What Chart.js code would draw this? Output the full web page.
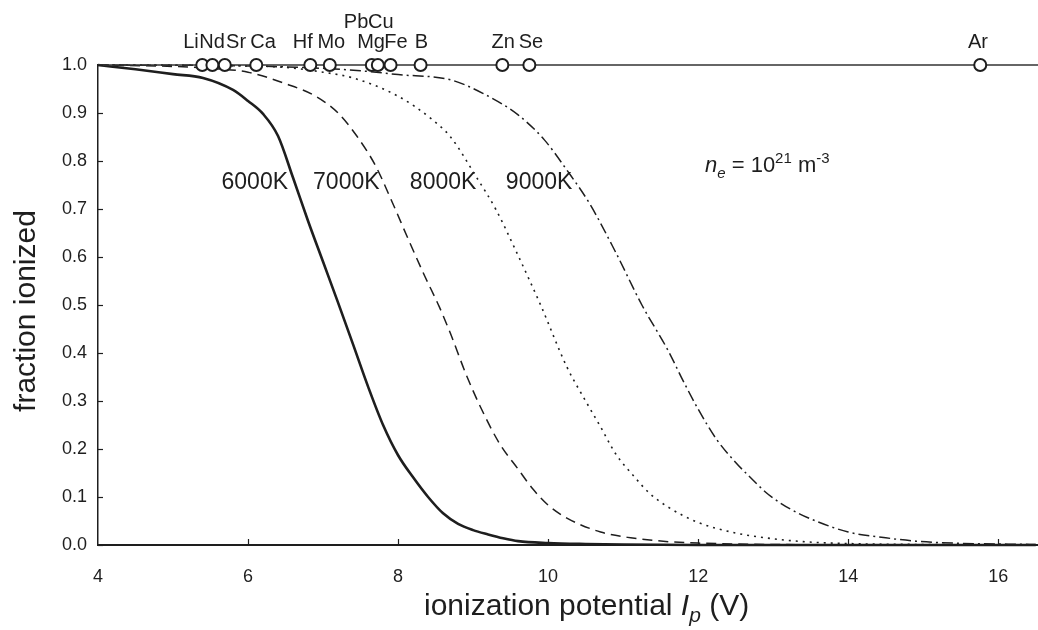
<!DOCTYPE html>
<html>
<head>
<meta charset="utf-8">
<script src="https://cdn.jsdelivr.net/npm/chart.js@4.4.1/dist/chart.umd.min.js"></script>
<style>
  html, body { margin: 0; padding: 0; background: #fff; }
  #wrap { width: 1038px; height: 630px; position: relative; }
</style>
</head>
<body>
<div id="wrap"><canvas id="chart"></canvas></div>
<script>
// ionization potential (V) vs fraction ionized
const t6000X = [4.0, 4.5, 5.0, 5.4, 5.8, 6.0, 6.2, 6.4, 6.6, 6.8, 7.0, 7.2, 7.4, 7.6, 7.8, 8.0, 8.2, 8.4, 8.6, 8.8, 9.0, 9.2, 9.4, 9.6, 10.0, 10.5, 11.0, 12.0, 16.5];
const t6000Y = [1.0, 0.991, 0.981, 0.973, 0.948, 0.925, 0.898, 0.852, 0.765, 0.675, 0.59, 0.505, 0.418, 0.33, 0.25, 0.187, 0.141, 0.1, 0.066, 0.044, 0.031, 0.022, 0.014, 0.008, 0.004, 0.002, 0.001, 0, 0];

const t7000X = [4.0, 5.0, 5.5, 6.0, 6.5, 6.9, 7.2, 7.45, 7.7, 7.9, 8.15, 8.35, 8.55, 8.7, 8.9, 9.1, 9.35, 9.6, 9.8, 10.0, 10.25, 10.7, 11.1, 11.6, 12.0, 13.0, 16.5];
const t7000Y = [1.0, 0.997, 0.993, 0.985, 0.961, 0.935, 0.9, 0.852, 0.79, 0.722, 0.632, 0.562, 0.496, 0.44, 0.358, 0.287, 0.212, 0.158, 0.116, 0.083, 0.056, 0.027, 0.015, 0.007, 0.004, 0.001, 0];

const t8000X = [4.0, 5.5, 6.5, 7.0, 7.4, 8.0, 8.45, 8.7, 9.05, 9.3, 9.6, 9.9, 10.25, 10.5, 10.7, 10.9, 11.15, 11.35, 11.6, 12.0, 12.5, 12.9, 13.4, 14.0, 15.0, 16.5];
const t8000Y = [1.0, 0.999, 0.995, 0.985, 0.973, 0.935, 0.887, 0.85, 0.765, 0.7, 0.603, 0.5, 0.371, 0.3, 0.246, 0.19, 0.142, 0.108, 0.079, 0.047, 0.025, 0.015, 0.007, 0.003, 0.001, 0];

const t9000X = [4.0, 6.0, 7.0, 7.5, 8.0, 8.7, 9.13, 9.6, 9.95, 10.25, 10.55, 10.9, 11.25, 11.6, 11.8, 12.0, 12.25, 12.5, 12.7, 12.9, 13.1, 13.35, 13.6, 14.0, 14.5, 14.9, 15.4, 16.5];
const t9000Y = [1.0, 0.998, 0.993, 0.988, 0.98, 0.969, 0.941, 0.896, 0.844, 0.781, 0.712, 0.61, 0.5, 0.405, 0.342, 0.283, 0.219, 0.172, 0.14, 0.11, 0.087, 0.065, 0.048, 0.027, 0.015, 0.008, 0.004, 0.001];

// elements marked on the 1.0 line (first ionization potential, V)
const elementNames = ['Li', 'Nd', 'Sr', 'Ca', 'Hf', 'Mo', 'Mg', 'Cu', 'Fe', 'B', 'Zn', 'Se', 'Ar'];
const elementIP = [5.39, 5.525, 5.69, 6.11, 6.83, 7.09, 7.65, 7.73, 7.90, 8.30, 9.39, 9.75, 15.76];

// element labels as printed (upper row holds Pb and Cu)
const labelNames = ['Li', 'Nd', 'Sr', 'Ca', 'Hf', 'Mo', 'Mg', 'Fe', 'B', 'Zn', 'Se', 'Ar', 'Pb', 'Cu'];
const labelX = [5.24, 5.52, 5.84, 6.2, 6.73, 7.11, 7.64, 7.97, 8.31, 9.4, 9.77, 15.73, 7.44, 7.77];
const labelRow = [0, 0, 0, 0, 0, 0, 0, 0, 0, 0, 0, 0, 1, 1];

const tempNames = ['6000K', '7000K', '8000K', '9000K'];
const tempLabelX = [6.09, 7.31, 8.6, 9.88];
const tempLabelY = 0.754;

const xTicks = [4, 6, 8, 10, 12, 14, 16];
const xMin = 4, xMax = 16.53;

const FONT = '"Liberation Sans", Arial, Helvetica, sans-serif';
const INK = '#1e1e1e';

function pts(xs, ys) {
  return xs.map((x, i) => ({ x, y: ys[i] }));
}

const overlay = {
  id: 'overlay',
  afterDraw(chart) {
    const { ctx, chartArea } = chart;
    const xs = chart.scales.x, ys = chart.scales.y;
    ctx.save();
    ctx.strokeStyle = INK;
    ctx.lineWidth = 1.2;
    // inward ticks
    xTicks.forEach(v => {
      if (v === xMin) return;
      const px = Math.round(xs.getPixelForValue(v)) + 0.5;
      ctx.beginPath();
      ctx.moveTo(px, chartArea.bottom);
      ctx.lineTo(px, chartArea.bottom - 6);
      ctx.stroke();
    });
    ys.ticks.forEach(t => {
      const py = Math.round(ys.getPixelForValue(t.value)) + 0.5;
      ctx.beginPath();
      ctx.moveTo(chartArea.left, py);
      ctx.lineTo(chartArea.left + 5, py);
      ctx.stroke();
    });

    ctx.fillStyle = INK;
    ctx.textBaseline = 'alphabetic';
    ctx.textAlign = 'center';

    // element labels
    ctx.font = '20px ' + FONT;
    labelNames.forEach((name, i) => {
      const px = xs.getPixelForValue(labelX[i]);
      ctx.fillText(name, px, labelRow[i] ? 28 : 48);
    });

    // temperature labels
    ctx.font = '23px ' + FONT;
    ctx.textBaseline = 'middle';
    tempNames.forEach((name, i) => {
      ctx.fillText(name, xs.getPixelForValue(tempLabelX[i]), ys.getPixelForValue(tempLabelY));
    });

    // n_e = 10^21 m^-3
    ctx.textBaseline = 'alphabetic';
    ctx.textAlign = 'left';
    let x = 705;
    const base = 172;
    const run = (text, font, dy) => {
      ctx.font = font;
      ctx.fillText(text, x, base + dy);
      x += ctx.measureText(text).width;
    };
    run('n', 'italic 22px ' + FONT, 0);
    run('e', 'italic 15px ' + FONT, 6);
    run(' = 10', '22px ' + FONT, 0);
    run('21', '15px ' + FONT, -9);
    run(' m', '22px ' + FONT, 0);
    run('-3', '15px ' + FONT, -9);

    // x axis title
    x = 424;
    const xb = 615;
    const runX = (text, font, dy) => {
      ctx.font = font;
      ctx.fillText(text, x, xb + dy);
      x += ctx.measureText(text).width;
    };
    runX('ionization potential ', '30px ' + FONT, 0);
    runX('I', 'italic 30px ' + FONT, 0);
    runX('p', 'italic 21px ' + FONT, 7);
    runX(' (V)', '30px ' + FONT, 0);

    // y axis title
    ctx.save();
    ctx.translate(35, 311);
    ctx.rotate(-Math.PI / 2);
    ctx.textAlign = 'center';
    ctx.font = '30px ' + FONT;
    ctx.fillText('fraction ionized', 0, 0);
    ctx.restore();

    ctx.restore();
  }
};

const curveStyle = { borderColor: INK, pointRadius: 0, cubicInterpolationMode: 'monotone', fill: false, clip: false, order: 2 };

new Chart(document.getElementById('chart'), {
  type: 'line',
  data: {
    datasets: [
      { ...curveStyle, label: '6000K', data: pts(t6000X, t6000Y), borderWidth: 2.6 },
      { ...curveStyle, label: '7000K', data: pts(t7000X, t7000Y), borderWidth: 1.5, borderDash: [10, 6] },
      { ...curveStyle, label: '8000K', data: pts(t8000X, t8000Y), borderWidth: 1.6, borderDash: [2, 5] },
      { ...curveStyle, label: '9000K', data: pts(t9000X, t9000Y), borderWidth: 1.5, borderDash: [11, 4, 2, 4] },
      { label: 'unity', data: [{ x: xMin, y: 1 }, { x: xMax, y: 1 }], borderColor: '#333', borderWidth: 1.5, pointRadius: 0, clip: false, order: 1 },
      {
        label: 'elements', data: elementIP.map(v => ({ x: v, y: 1 })), showLine: false, clip: false, order: 0,
        pointRadius: 6, pointBackgroundColor: '#fff', pointBorderColor: INK, pointBorderWidth: 2
      }
    ]
  },
  options: {
    responsive: true,
    maintainAspectRatio: false,
    animation: false,
    events: [],
    layout: { autoPadding: false, padding: { top: 65, left: 0, right: 0, bottom: 0 } },
    plugins: { legend: { display: false }, tooltip: { enabled: false } },
    scales: {
      x: {
        type: 'linear', min: xMin, max: xMax,
        grid: { display: false },
        border: { display: true, color: INK, width: 2 },
        ticks: { stepSize: 2, includeBounds: false, padding: 13, color: INK, font: { family: FONT, size: 18 } },
        afterFit(scale) { scale.height = 85; }
      },
      y: {
        min: 0, max: 1,
        grid: { display: false },
        border: { display: true, color: INK, width: 1.5 },
        ticks: { stepSize: 0.1, padding: 3, color: INK, font: { family: FONT, size: 18 }, callback: v => v.toFixed(1) },
        afterFit(scale) { scale.width = 98; }
      }
    }
  },
  plugins: [overlay]
});
</script>
</body>
</html>
